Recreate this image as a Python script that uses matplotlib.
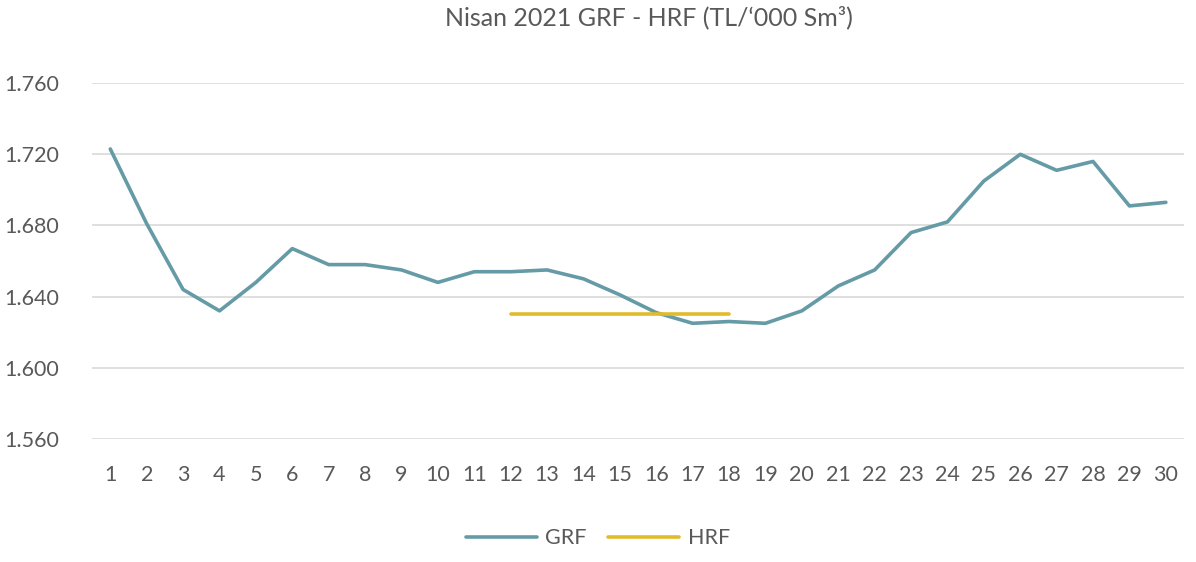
import matplotlib.pyplot as plt
from matplotlib.ticker import FuncFormatter

days = list(range(1, 31))
grf = [1723, 1681, 1644, 1632, 1648, 1667, 1658, 1658, 1655, 1648,
       1654, 1654, 1655, 1650, 1641, 1631, 1625, 1626, 1625, 1632,
       1646, 1655, 1676, 1682, 1705, 1720, 1711, 1716, 1691, 1693]
hrf_days = list(range(12, 19))
hrf = [1630] * len(hrf_days)

text_color = '#595959'
plt.rcParams['font.family'] = ['Lato', 'DejaVu Sans']

fig = plt.figure(figsize=(11.96, 5.62), dpi=100)
ax = fig.add_axes([0.077, 0.219, 0.913, 0.633])

ax.plot(days, grf, color='#659ba6', lw=2.6, solid_capstyle='round', label='GRF')
ax.plot(hrf_days, hrf, color='#e2bb2b', lw=2.6, solid_capstyle='round', label='HRF')

ax.set_xlim(0.5, 30.5)
ax.set_ylim(1560, 1760)
ax.set_yticks(range(1560, 1761, 40))
ax.yaxis.set_major_formatter(FuncFormatter(lambda v, p: f'{int(v):,}'.replace(',', '.')))
ax.set_xticks(days)
ax.grid(axis='y', color='#d9d9d9', lw=1.2)
ax.set_axisbelow(True)
for s in ax.spines.values():
    s.set_visible(False)
ax.tick_params(length=0, labelsize=15.5, colors=text_color)
ax.tick_params(axis='y', pad=24)
ax.tick_params(axis='x', pad=19)

fig.suptitle("Nisan 2021 GRF - HRF (TL/\u2018000 Sm\u00b3)", x=0.543, y=0.99, fontsize=18, color=text_color)

fig.legend(loc='lower center', bbox_to_anchor=(0.5, -0.01), ncol=2, frameon=False,
           fontsize=15.5, labelcolor=text_color, handlelength=3.3, columnspacing=1.0, handletextpad=0.4)

fig.savefig('out.png', dpi=100)
